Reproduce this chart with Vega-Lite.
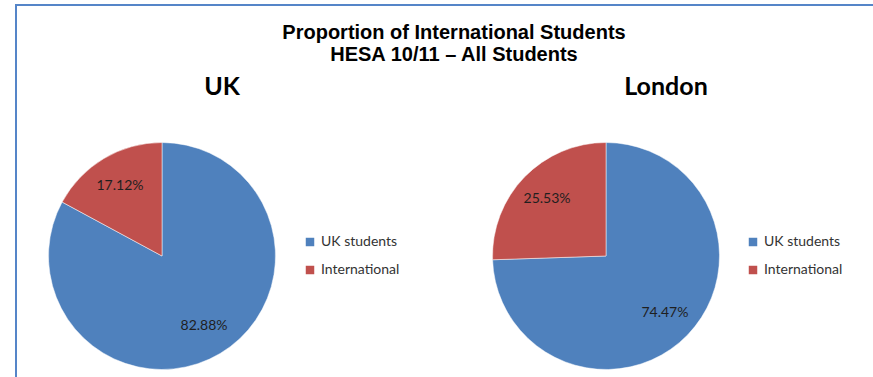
{
  "$schema": "https://vega.github.io/schema/vega-lite/v6.json",
  "width": 870,
  "height": 502,
  "autosize": "none",
  "padding": {"left": 16, "top": 5, "right": -13, "bottom": -130},
  "background": "white",
  "title": {
    "text": ["Proportion of International Students", "HESA 10/11 – All Students"],
    "font": "Liberation Sans",
    "fontSize": 20,
    "fontWeight": "bold",
    "color": "#000000",
    "anchor": "middle",
    "frame": "group",
    "lineHeight": 22,
    "offset": -60,
    "dx": 3
  },
  "data": {
    "values": [
      {"region": "UK", "category": "UK students", "share": 0.8288},
      {"region": "UK", "category": "International", "share": 0.1712},
      {"region": "London", "category": "UK students", "share": 0.7447},
      {"region": "London", "category": "International", "share": 0.2553}
    ]
  },
  "layer": [
    {
      "transform": [{"filter": "datum.region === 'UK'"}],
      "layer": [
        {
          "mark": {"type": "arc", "outerRadius": 113.5, "stroke": "white", "strokeWidth": 0.5},
          "encoding": {
            "x": {"field": "region", "type": "nominal", "scale": {"type": "point", "domain": ["UK", "London"], "range": [146, 590], "padding": 0}, "axis": null},
            "theta": {"field": "share", "type": "quantitative", "stack": true},
            "order": {"field": "category", "sort": "descending"},
            "color": {
              "field": "category", "type": "nominal",
              "scale": {"domain": ["UK students", "International"], "range": ["#4f81bd", "#c0504d"]},
              "legend": {"title": null, "orient": "none", "legendX": 287, "legendY": 230}
            }
          }
        },
        {
          "mark": {"type": "text", "radius": 82, "font": "Lato", "fontSize": 14, "color": "#1f1f1f"},
          "encoding": {
            "x": {"field": "region", "type": "nominal", "scale": {"type": "point", "domain": ["UK", "London"], "range": [146, 590], "padding": 0}, "axis": null},
            "theta": {"field": "share", "type": "quantitative", "stack": true},
            "order": {"field": "category", "sort": "descending"},
            "text": {"field": "share", "type": "quantitative", "format": ".2%"}
          }
        },
        {
          "transform": [{"filter": "datum.category === 'UK students'"}],
          "mark": {"type": "text", "font": "Lato", "fontSize": 25, "fontWeight": "bold", "color": "#000000", "dx": 60, "dy": -169},
          "encoding": {
            "x": {"field": "region", "type": "nominal", "scale": {"type": "point", "domain": ["UK", "London"], "range": [146, 590], "padding": 0}, "axis": null},
            "text": {"field": "region", "type": "nominal"}
          }
        }
      ]
    },
    {
      "transform": [{"filter": "datum.region === 'London'"}],
      "layer": [
        {
          "mark": {"type": "arc", "outerRadius": 113.5, "stroke": "white", "strokeWidth": 0.5},
          "encoding": {
            "x": {"field": "region", "type": "nominal", "scale": {"type": "point", "domain": ["UK", "London"], "range": [146, 590], "padding": 0}, "axis": null},
            "theta": {"field": "share", "type": "quantitative", "stack": true},
            "order": {"field": "category", "sort": "descending"},
            "color": {
              "field": "category", "type": "nominal",
              "scale": {"domain": ["UK students", "International"], "range": ["#4f81bd", "#c0504d"]},
              "legend": {"title": null, "orient": "none", "legendX": 730, "legendY": 230}
            }
          }
        },
        {
          "mark": {"type": "text", "radius": 82, "font": "Lato", "fontSize": 14, "color": "#1f1f1f"},
          "encoding": {
            "x": {"field": "region", "type": "nominal", "scale": {"type": "point", "domain": ["UK", "London"], "range": [146, 590], "padding": 0}, "axis": null},
            "theta": {"field": "share", "type": "quantitative", "stack": true},
            "order": {"field": "category", "sort": "descending"},
            "text": {"field": "share", "type": "quantitative", "format": ".2%"}
          }
        },
        {
          "transform": [{"filter": "datum.category === 'UK students'"}],
          "mark": {"type": "text", "font": "Lato", "fontSize": 25, "fontWeight": "bold", "color": "#000000", "dx": 60, "dy": -169},
          "encoding": {
            "x": {"field": "region", "type": "nominal", "scale": {"type": "point", "domain": ["UK", "London"], "range": [146, 590], "padding": 0}, "axis": null},
            "text": {"field": "region", "type": "nominal"}
          }
        }
      ]
    }
  ],
  "resolve": {"scale": {"color": "independent"}, "legend": {"color": "independent"}},
  "config": {
    "view": {"stroke": "#5585c8", "strokeWidth": 2},
    "legend": {
      "padding": 0,
      "symbolType": "square",
      "symbolSize": 72,
      "symbolStrokeWidth": 0,
      "labelFont": "Lato",
      "labelFontSize": 14,
      "labelColor": "#333333",
      "labelOffset": 4,
      "rowPadding": 14
    }
  }
}
